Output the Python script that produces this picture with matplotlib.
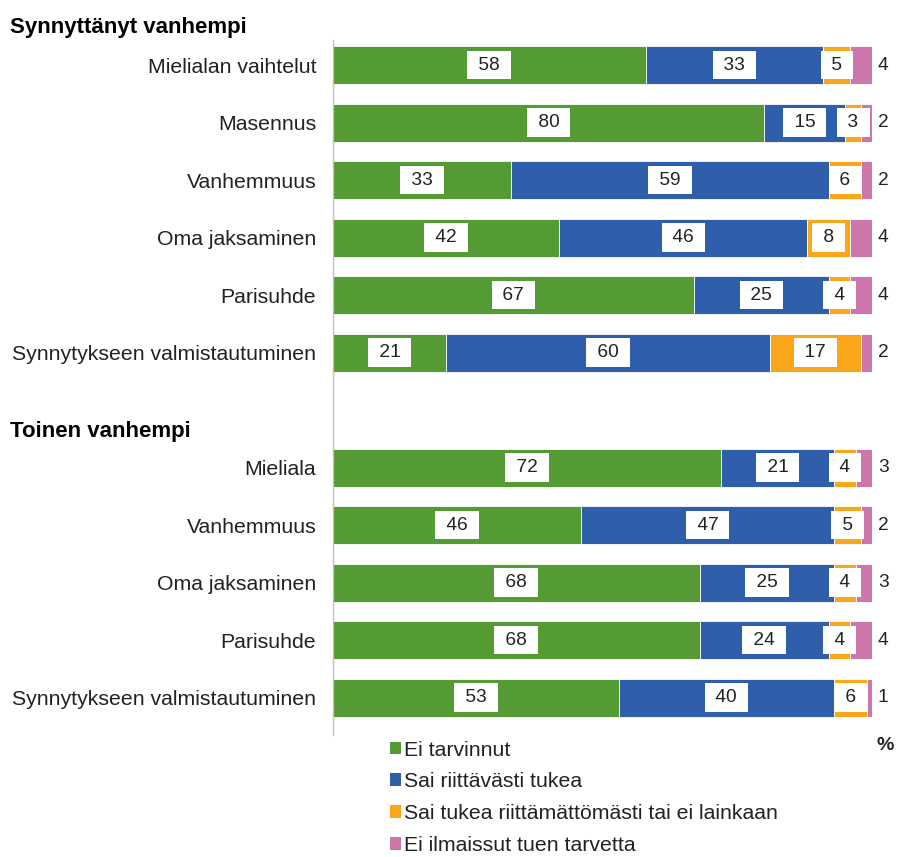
import matplotlib
matplotlib.use("Agg")
import matplotlib.pyplot as plt
from matplotlib.patches import Patch

plt.rcParams['font.family'] = ['Liberation Sans', 'DejaVu Sans']

categories_1 = ["Mielialan vaihtelut", "Masennus", "Vanhemmuus", "Oma jaksaminen",
                "Parisuhde", "Synnytykseen valmistautuminen"]
categories_2 = ["Mieliala", "Vanhemmuus", "Oma jaksaminen", "Parisuhde",
                "Synnytykseen valmistautuminen"]
group_titles = ["Synnyttänyt vanhempi", "Toinen vanhempi"]

ei_tarvinnut = [58, 80, 33, 42, 67, 21, 72, 46, 68, 68, 53]
sai_riittavasti = [33, 15, 59, 46, 25, 60, 21, 47, 25, 24, 40]
riittamattomasti = [5, 3, 6, 8, 4, 17, 4, 5, 4, 4, 6]
ei_ilmaissut = [4, 2, 2, 4, 4, 2, 3, 2, 3, 4, 1]

series_names = ["Ei tarvinnut", "Sai riittävästi tukea",
                "Sai tukea riittämättömästi tai ei lainkaan", "Ei ilmaissut tuen tarvetta"]
colors = ["#539B32", "#2F5FAB", "#F9A61A", "#CC76AC"]

labels = categories_1 + categories_2
positions = list(range(len(categories_1))) + [i + len(categories_1) + 1 for i in range(len(categories_2))]

LBL = 15.3
NUM = 13.8

fig = plt.figure(figsize=(8.98, 8.57), dpi=100)
ax = fig.add_axes([333/898, 1 - 735/857, (872-333)/898, (735-40)/857])

series = [ei_tarvinnut, sai_riittavasti, riittamattomasti, ei_ilmaissut]
lefts = [0] * len(labels)
for s_i, (vals, col) in enumerate(zip(series, colors)):
    ax.barh(positions, vals, left=lefts, height=0.66, color=col,
            edgecolor='white', linewidth=0.6)
    for p, l, v in zip(positions, lefts, vals):
        if s_i < 3:
            ax.text(l + v / 2, p, f" {v} ", ha='center', va='center', fontsize=NUM,
                    color='#222222',
                    bbox=dict(boxstyle='square,pad=0.3', fc='white', ec='none'))
        else:
            ax.text(l + v + 1.1, p, str(v), ha='left', va='center', fontsize=NUM,
                    color='#222222')
    lefts = [a + b for a, b in zip(lefts, vals)]

ax.set_xlim(0, 100)
ax.set_ylim(11.65, -0.435)
ax.set_yticks(positions)
ax.set_yticklabels(labels, fontsize=LBL, color='#222222')
ax.tick_params(axis='y', length=0, pad=12)
ax.set_xticks([])
for sp in ['top', 'right', 'bottom']:
    ax.spines[sp].set_visible(False)
ax.spines['left'].set_color('#BFBFBF')
ax.spines['left'].set_linewidth(1.0)

fig.text(10/898, 1 - 27/857, group_titles[0], fontsize=16, fontweight='bold',
         va='center', ha='left', color='black')
fig.text(10/898, 1 - 432/857, group_titles[1], fontsize=16, fontweight='bold',
         va='center', ha='left', color='black')
fig.text(885/898, 1 - 745/857, "%", fontsize=14, fontweight='bold',
         va='center', ha='center', color='#222222')

handles = [Patch(facecolor=c, edgecolor='none') for c in colors]
leg = fig.legend(handles, series_names, loc='upper left',
                 bbox_to_anchor=(381/898, 1 - 732/857), frameon=False,
                 fontsize=LBL, handlelength=0.55, handleheight=0.55,
                 handletextpad=0.15, labelspacing=0.6, borderaxespad=0)
for t in leg.get_texts():
    t.set_color('#222222')

fig.savefig("out.png", dpi=100)
